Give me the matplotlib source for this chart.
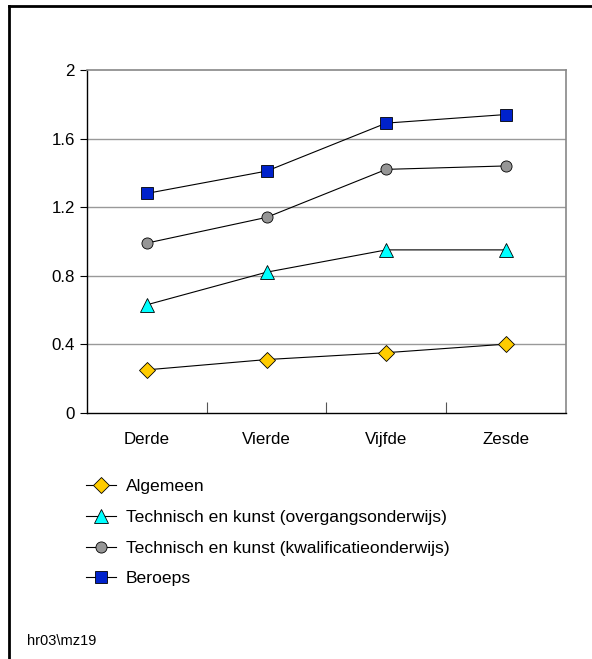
import matplotlib.pyplot as plt
from matplotlib.lines import Line2D

plt.rcParams['font.family'] = ['Liberation Sans', 'DejaVu Sans']

# leerjaren
categories = ['Derde', 'Vierde', 'Vijfde', 'Zesde']

# waarden per onderwijsvorm
algemeen = [0.25, 0.31, 0.35, 0.40]
tko = [0.63, 0.82, 0.95, 0.95]
tkk = [0.99, 1.14, 1.42, 1.44]
beroeps = [1.28, 1.41, 1.69, 1.74]

labels = ['Algemeen',
          'Technisch en kunst (overgangsonderwijs)',
          'Technisch en kunst (kwalificatieonderwijs)',
          'Beroeps']
yticks = [0, 0.4, 0.8, 1.2, 1.6, 2]
ytick_labels = ['0', '0.4', '0.8', '1.2', '1.6', '2']

fig = plt.figure(figsize=(5.92, 6.59), dpi=100)
ax = fig.add_axes([0.1475, 0.3738, 0.808, 0.52])

x = range(len(categories))
styles = [
    (algemeen, 'D', '#FFCC00', 8.0),
    (tko, '^', '#00FFFF', 9.5),
    (tkk, 'o', '#969696', 8.0),
    (beroeps, 's', '#0022CC', 8.0),
]
handles = []
for (vals, m, c, ms), lab in zip(styles, labels):
    h, = ax.plot(x, vals, color='black', lw=0.8, marker=m, markersize=ms,
                 markerfacecolor=c, markeredgecolor='black', markeredgewidth=0.6,
                 label=lab, zorder=3)
    handles.append(h)

ax.set_xlim(-0.5, 3.5)
ax.set_ylim(0, 2)
ax.set_yticks(yticks)
ax.set_yticklabels(ytick_labels)
ax.set_xticks([0.5, 1.5, 2.5])
ax.set_xticklabels([])
ax.set_xticks(list(x), minor=True)
ax.set_xticklabels(categories, minor=True)
ax.tick_params(axis='x', which='major', direction='in', length=8, width=0.8, color='#555555')
ax.tick_params(axis='x', which='minor', length=0, pad=14, labelsize=12.2)
ax.tick_params(axis='y', direction='out', length=5, width=0.8, pad=4, labelsize=12.2)

for yv in yticks[1:-1]:
    ax.axhline(yv, color='#999999', lw=1.0, zorder=1)

ax.spines['top'].set_color('#888888')
ax.spines['right'].set_color('#888888')
ax.spines['top'].set_linewidth(1.2)
ax.spines['right'].set_linewidth(1.2)
ax.spines['left'].set_linewidth(1.0)
ax.spines['bottom'].set_linewidth(1.0)

fig.legend(handles=handles, loc='upper left', bbox_to_anchor=(0.145, 0.273),
           frameon=False, fontsize=12.6, handlelength=1.7, handletextpad=0.6,
           labelspacing=0.88, borderpad=0, borderaxespad=0)

fig.text(27 / 592, 1 - 641 / 659, 'hr03\\mz19', fontsize=10.5, va='center')

# kader links en boven
fig.add_artist(Line2D([9 / 592, 9 / 592], [0, 1 - 6 / 659], transform=fig.transFigure,
                      color='black', lw=2))
fig.add_artist(Line2D([9 / 592, 1], [1 - 6 / 659, 1 - 6 / 659], transform=fig.transFigure,
                      color='black', lw=2))

fig.savefig('out.png', dpi=100)
